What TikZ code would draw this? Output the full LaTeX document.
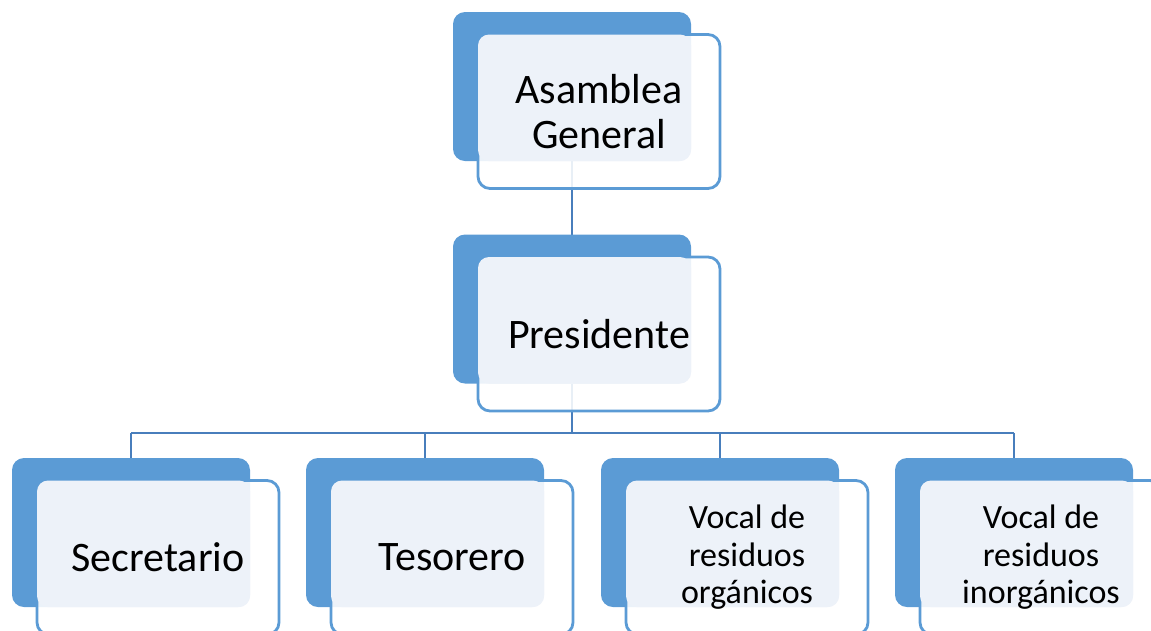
\documentclass[tikz,border=0pt]{standalone}
\usepackage{fontspec}
\setmainfont{Carlito}
\usetikzlibrary{backgrounds}

\definecolor{boxblue}{RGB}{91,155,213}
\definecolor{paleblue}{RGB}{237,242,249}
\definecolor{linkblue}{RGB}{72,126,188}

\tikzset{
  backbox/.style={fill=boxblue, rounded corners=12pt, minimum width=238pt,
    minimum height=149pt, inner sep=0pt, outer sep=0pt},
  frontbox/.style={draw=boxblue, line width=2.8pt, fill=white, fill opacity=0.88,
    rounded corners=12pt, minimum width=242pt, minimum height=154pt,
    inner sep=0pt, outer sep=0pt},
  tint/.style={fill=paleblue, rounded corners=11pt},
  boxtext/.style={align=center, text=black, inner sep=0pt},
  link/.style={draw=linkblue, line width=2.8pt}
}

\newcommand\bigtext{\fontsize{42}{45}\selectfont}
\newcommand\midtext{\fontsize{42}{45}\selectfont}
\newcommand\smalltext{\fontsize{34}{37.5}\selectfont}

%% #1 name, #2 #3 centre of the dark box, #4 font, #5 text
\newcommand\orgunit[5]{%
  \node[backbox] (#1b) at (#2,#3) {};
  \node[frontbox] (#1) at ([shift={(27,25)}]#1b.center) {};
  \fill[tint] (#1.north west) rectangle (#1b.south east);
  \node[boxtext, font=#4] (#1t) at (#1) {#5};
}

\begin{document}
\begin{tikzpicture}[x=1pt,y=-1pt]
    \useasboundingbox (0,0) rectangle (1151,630);
    \clip (0,0) rectangle (1151,630);
    %% Top levels
    \orgunit{asamblea}{572}{86.5}{\bigtext}{Asamblea\\General}
    \orgunit{presidente}{572}{309}{\bigtext}{Presidente}
    %% Committee
    \orgunit{secretario}{131}{532.5}{\midtext}{Secretario}
    \orgunit{tesorero}{425}{532.5}{\midtext}{Tesorero}
    \orgunit{organicos}{720}{532.5}{\smalltext}{Vocal de\\residuos\\orgánicos}
    \orgunit{inorganicos}{1014}{532.5}{\smalltext}{Vocal de\\residuos\\inorgánicos}
    %% Links
    \begin{scope}[on background layer]
        \coordinate (bus) at (0,433);
        \draw[link] (asambleab.south) -- (presidenteb.north);
        \draw[link] (presidenteb.south) -- (presidenteb.south |- bus);
        \draw[link] (secretariob.north |- bus) -- (inorganicosb.north |- bus);
        \foreach \n in {secretario,tesorero,organicos,inorganicos}
            \draw[link] (\n b.north |- bus) -- (\n b.north);
    \end{scope}
\end{tikzpicture}
\end{document}
